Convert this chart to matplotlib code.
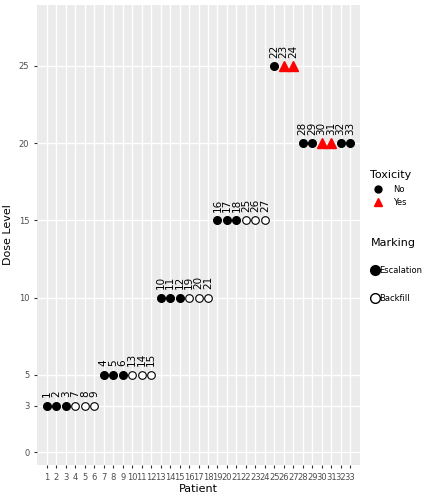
import matplotlib.pyplot as plt
from matplotlib.lines import Line2D

patient = list(range(1, 34))
dose = [3]*6 + [5]*6 + [10]*6 + [15]*6 + [25]*3 + [20]*6
label = [1, 2, 3, 7, 8, 9, 4, 5, 6, 13, 14, 15, 10, 11, 12, 19, 20, 21,
         16, 17, 18, 25, 26, 27, 22, 23, 24, 28, 29, 30, 31, 32, 33]
tox = [0]*25 + [1, 1] + [0, 0, 1, 1, 0, 0]
backfill = ([0]*3 + [1]*3)*4 + [0]*3 + [0]*6

fig = plt.figure(figsize=(4.32, 5.04), dpi=100)
ax = fig.add_axes([37/432, 39/504, 323/432, 460/504])
ax.set_facecolor('#EBEBEB')
for s in ax.spines.values():
    s.set_visible(False)
yt = [0, 3, 5, 10, 15, 20, 25]
ax.set_yticks(yt)
ax.set_xticks(patient)
ax.grid(True, color='white', linewidth=1)
ax.set_axisbelow(True)
ax.tick_params(colors='#4D4D4D', labelsize=6, length=2, color='#333333')
ax.set_xlim(-0.05, 34.05)
ax.set_ylim(-0.84, 28.95)

for p, d, l, t, b in zip(patient, dose, label, tox, backfill):
    if t:
        ax.plot(p, d, marker='^', color='red', markersize=6.5, linestyle='none')
    elif b:
        ax.plot(p, d, marker='o', mfc='white', mec='black', markersize=5.5, mew=0.8, linestyle='none')
    else:
        ax.plot(p, d, marker='o', color='black', markersize=5.5, linestyle='none')
    ax.text(p, d + 0.55, str(l), rotation=90, ha='center', va='bottom', fontsize=7.5)

ax.set_xlabel('Patient', fontsize=8, labelpad=2)
ax.set_ylabel('Dose Level', fontsize=8)

h1 = [Line2D([], [], marker='o', color='black', linestyle='none', markersize=5),
      Line2D([], [], marker='^', color='red', linestyle='none', markersize=6)]
l1 = fig.legend(h1, ['No', 'Yes'], title='Toxicity', loc='upper left',
                bbox_to_anchor=(362/432, 1-163/504), frameon=False, fontsize=6,
                title_fontsize=8, handletextpad=0.8)
l1._legend_box.align = 'left'
h2 = [Line2D([], [], marker='o', color='black', linestyle='none', markersize=7),
      Line2D([], [], marker='o', mfc='white', mec='black', linestyle='none', markersize=7)]
l2 = fig.legend(h2, ['Escalation', 'Backfill'], title='Marking', loc='upper left',
                bbox_to_anchor=(366/432, 1-233/504), frameon=False, fontsize=6,
                title_fontsize=8, handletextpad=0.0, handlelength=1.0,
                borderpad=0.1, labelspacing=2.2)
l2._legend_box.align = 'left'
fig.savefig('out.png')
